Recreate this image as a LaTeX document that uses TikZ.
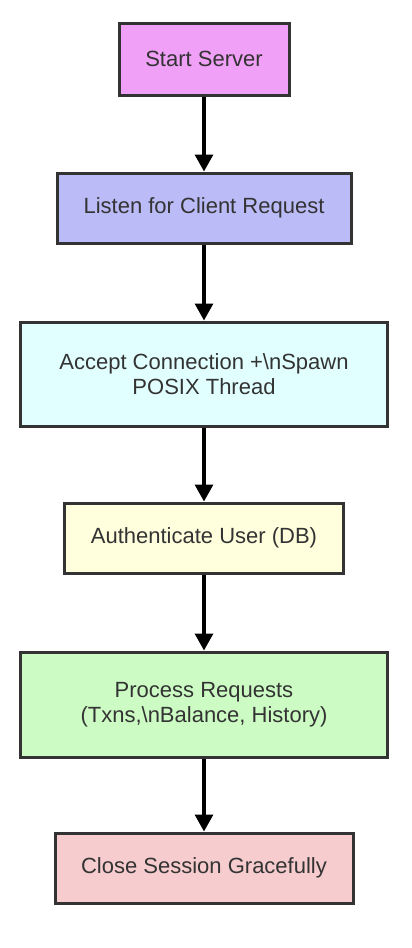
\documentclass[tikz,border=0pt]{standalone}
\usepackage{fontspec}
\setmainfont{Liberation Sans}
\usetikzlibrary{arrows.meta,shadows}

\definecolor{edgegray}{HTML}{333333}
\definecolor{textgray}{HTML}{333333}
\definecolor{startfill}{HTML}{F0A0F6}
\definecolor{listenfill}{HTML}{BBBBF8}
\definecolor{acceptfill}{HTML}{E2FFFF}
\definecolor{authfill}{HTML}{FFFFDD}
\definecolor{processfill}{HTML}{CCFCC4}
\definecolor{closefill}{HTML}{F6CCCE}

\tikzset{
  stepbox/.style={draw=edgegray, line width=1.5pt, rectangle, align=center,
    text=textgray, font=\fontsize{11}{12.6}\selectfont,
    drop shadow={opacity=0.2, shadow xshift=0.6pt, shadow yshift=-0.6pt}},
  flow/.style={-{Triangle[width=9pt,length=8.5pt]}, line width=1.6pt, black}
}

\begin{document}
\begin{tikzpicture}[x=0.5pt, y=-0.5pt]
    \useasboundingbox (0, 0) rectangle (412, 948);

    \node[stepbox, fill=startfill, minimum width=85pt, minimum height=36pt] (start) at (204, 59) {Start Server};
    \node[stepbox, fill=listenfill, minimum width=147pt, minimum height=35pt] (listen) at (204, 208) {Listen for Client Request};
    \node[stepbox, fill=acceptfill, minimum width=183.5pt, minimum height=52pt] (accept) at (204, 374) {Accept Connection +\textbackslash nSpawn\\POSIX Thread};
    \node[stepbox, fill=authfill, minimum width=139.5pt, minimum height=35pt] (auth) at (204, 538) {Authenticate User (DB)};
    \node[stepbox, fill=processfill, minimum width=183.5pt, minimum height=52.5pt] (process) at (204, 704.5) {Process Requests\\(Txns,\textbackslash nBalance, History)};
    \node[stepbox, fill=closefill, minimum width=149pt, minimum height=35pt] (close) at (204, 868) {Close Session Gracefully};

    \draw[flow] (start) -- (listen);
    \draw[flow] (listen) -- (accept);
    \draw[flow] (accept) -- (auth);
    \draw[flow] (auth) -- (process);
    \draw[flow] (process) -- (close);
  \end{tikzpicture}
\end{document}
